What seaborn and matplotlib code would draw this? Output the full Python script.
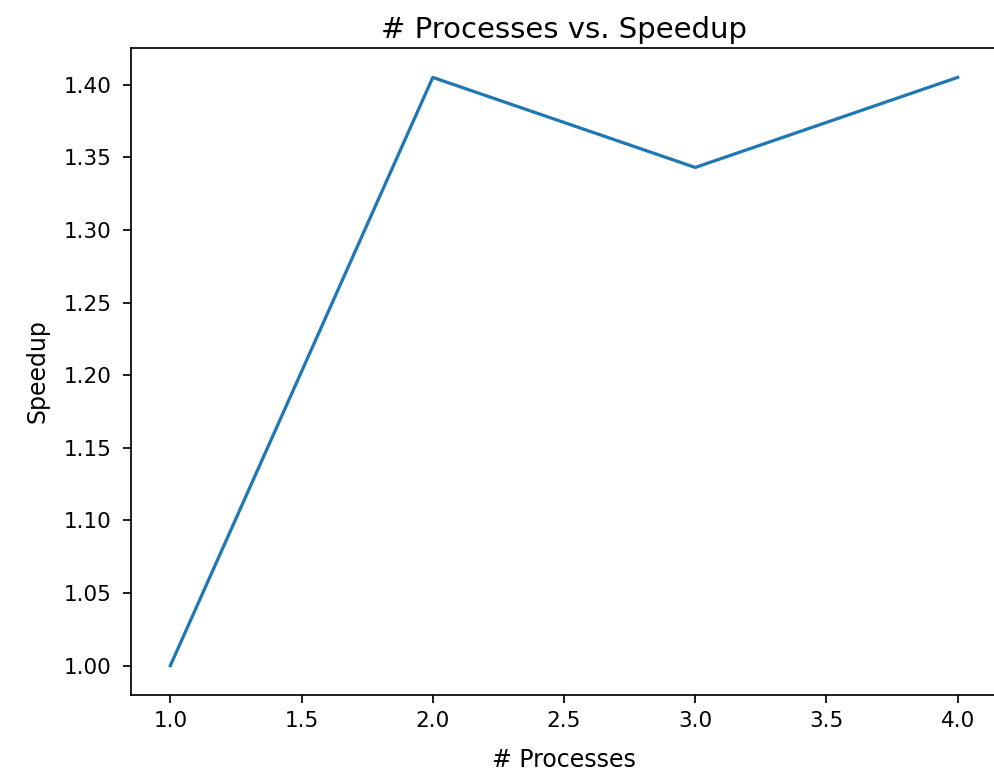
import matplotlib
matplotlib.use("Agg")
import matplotlib.pyplot as plt
import seaborn as sns
import pandas as pd

# speedup measured per number of processes
processes = [1, 2, 3, 4]
speedup = [1.0, 1.405, 1.343, 1.405]

df = pd.DataFrame({"# Processes": processes, "Speedup": speedup})

scale = 1.55
plt.rcParams.update({
    "font.family": ["DejaVu Sans"],
    "font.size": 10 * scale,
    "axes.titlesize": 21,
    "axes.labelsize": 17,
    "xtick.labelsize": 10 * scale,
    "ytick.labelsize": 10 * scale,
    "axes.linewidth": 0.8 * scale,
    "xtick.major.size": 3.5 * scale,
    "ytick.major.size": 3.5 * scale,
    "xtick.major.width": 0.8 * scale,
    "ytick.major.width": 0.8 * scale,
    "ytick.major.pad": 8.5,
    "xtick.major.pad": 6,
    "lines.linewidth": 1.5 * scale,
})

fig = plt.figure(figsize=(9.95, 7.7), dpi=100)
ax = fig.add_axes([131 / 995, 75 / 770, 866 / 995, 647 / 770])

sns.lineplot(data=df, x="# Processes", y="Speedup", ax=ax, color="#1f77b4")
ax.set_title("# Processes vs. Speedup", pad=7.5)
ax.xaxis.labelpad = 12
ax.yaxis.labelpad = 10
ax.spines["right"].set_visible(False)

fig.savefig("out.png", dpi=100)
